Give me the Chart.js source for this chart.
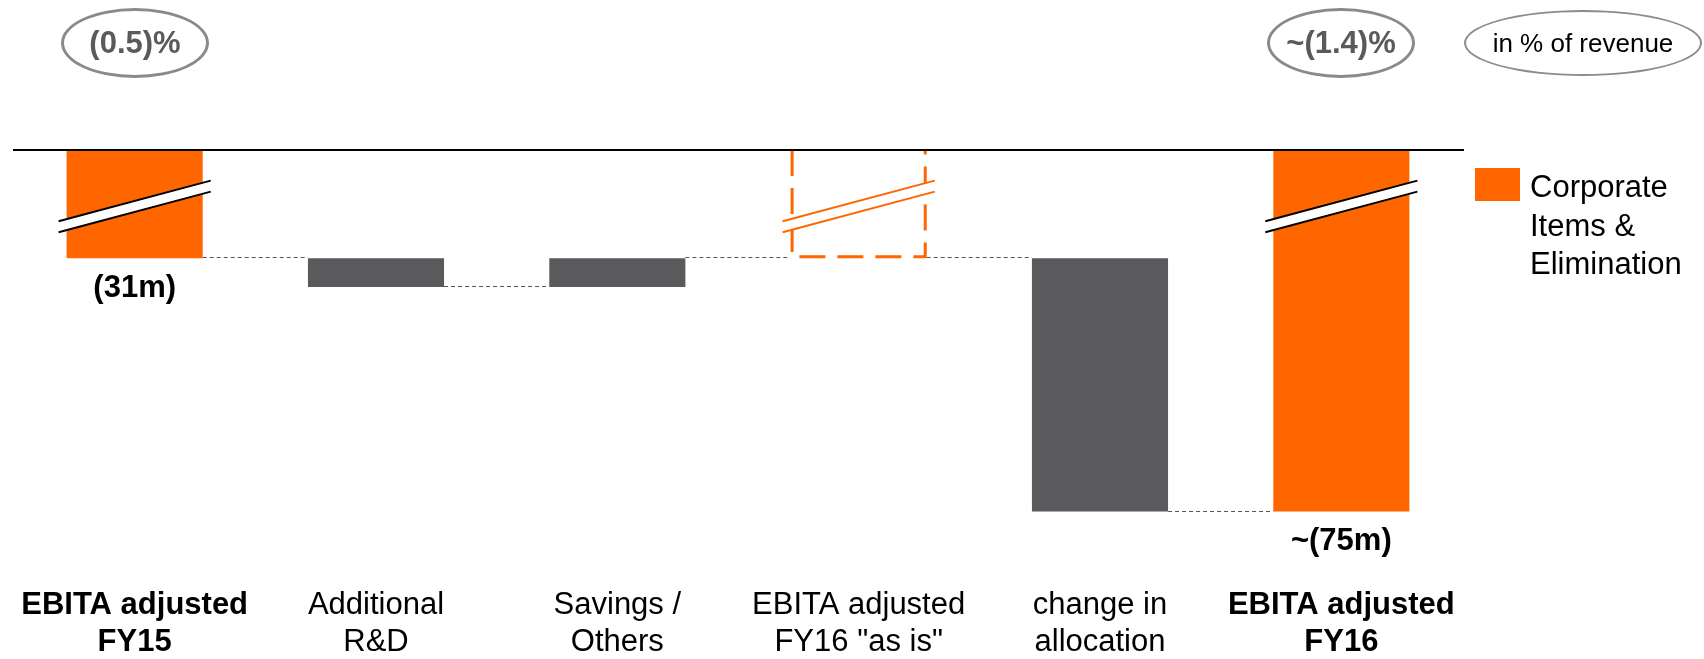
<!DOCTYPE html>
<html><head><meta charset="utf-8">
<script src="https://cdn.jsdelivr.net/npm/chart.js@4/dist/chart.umd.min.js"></script>
<style>
html,body{margin:0;padding:0;background:#fff;}
#wrap{position:relative;width:1704px;height:659px;font-family:"Liberation Sans",Arial,sans-serif;overflow:hidden;}
#c{position:absolute;left:0;top:0;}
.oval{position:absolute;box-sizing:border-box;border-radius:50%;display:flex;align-items:center;justify-content:center;white-space:nowrap;}
.o1{border:3px solid #8a8a8a;width:148px;height:70px;top:8px;font-weight:bold;font-size:31px;color:#5a5a5a;}
.o3{border:2px solid #8c8c8c;width:238px;height:66px;top:10px;left:1464px;font-size:26px;color:#000;}
#legbox{position:absolute;left:1475px;top:168px;width:45px;height:33px;background:#FF6600;}
#legtxt{position:absolute;left:1530px;top:168px;font-size:31px;line-height:38.5px;color:#000;}
</style></head>
<body>
<div id="wrap">
<canvas id="c" width="1704" height="659"></canvas>
<div class="oval o1" style="left:61px;">(0.5)%</div>
<div class="oval o1" style="left:1267px;">~(1.4)%</div>
<div class="oval o3">in % of revenue</div>
<div id="legbox"></div>
<div id="legtxt">Corporate<br>Items &amp;<br>Elimination</div>
</div>
<script>
// ---- data ----
const categories = [
  ['EBITA adjusted','FY15'],
  ['Additional','R&D'],
  ['Savings /','Others'],
  ['EBITA adjusted','FY16 "as is"'],
  ['change in','allocation'],
  ['EBITA adjusted','FY16']
];
const values  = [-31, -5, 5, -31, -44, -75];      // EUR m
const isTotal = [true, false, false, true, false, true];
const isProjectedTotal = [false, false, false, true, false, false];
const valueLabels = ['(31m)', '', '', '', '', '~(75m)'];
const boldLabel = [true, false, false, false, false, true];
const breakAt = -22;     // value where the axis break symbol is drawn
const axisTopValue = -12.2;  // broken axis: visible range top
const axisBottomValue = -82.2;

const ORANGE = '#FF6600', GREY = '#5a5a5c';

// floating ranges for the waterfall
const ranges = [], levels = [];
let run = 0;
values.forEach((v, i) => {
  if (isTotal[i]) { ranges.push([0, v]); run = v; }
  else { ranges.push([run, run + v]); run = run + v; }
  levels.push(run);
});

const colors = values.map((v, i) => isProjectedTotal[i] ? 'rgba(0,0,0,0)' : (isTotal[i] ? ORANGE : GREY));

Chart.defaults.font.family = '"Liberation Sans", Arial, sans-serif';

const decor = {
  id: 'decor',
  afterDatasetsDraw(chart) {
    const ctx = chart.ctx, area = chart.chartArea, ys = chart.scales.y;
    const meta = chart.getDatasetMeta(0);
    const els = meta.data;
    ctx.save();
    // connectors
    ctx.strokeStyle = '#555'; ctx.lineWidth = 1; ctx.setLineDash([4, 3]);
    for (let i = 0; i < els.length - 1; i++) {
      const a = els[i], b = els[i + 1];
      const yy = Math.round(ys.getPixelForValue(levels[i])) - 0.5;
      ctx.beginPath();
      ctx.moveTo(a.x + a.width / 2, yy);
      ctx.lineTo(b.x - b.width / 2, yy);
      ctx.stroke();
    }
    // dashed projected bar
    els.forEach((el, i) => {
      if (!isProjectedTotal[i]) return;
      const l = el.x - el.width / 2 + 1.5, r = el.x + el.width / 2 - 1.5;
      const top = area.top, bot = ys.getPixelForValue(ranges[i][1]) - 1.5;
      ctx.strokeStyle = ORANGE; ctx.lineWidth = 3; ctx.setLineDash([26, 12]);
      ctx.beginPath(); ctx.moveTo(l, top); ctx.lineTo(l, bot); ctx.lineTo(r, bot); ctx.lineTo(r, top); ctx.stroke();
    });
    ctx.setLineDash([]);
    // break symbols
    els.forEach((el, i) => {
      if (!isTotal[i]) return;
      const yc = ys.getPixelForValue(breakAt);
      const x0 = el.x - el.width / 2 - 8, x1 = el.x + el.width / 2 + 8;
      const rise = 40 * (x1 - x0) / 150;
      const h = 5.5;
      ctx.fillStyle = '#fff';
      ctx.beginPath();
      ctx.moveTo(x0, yc + rise / 2 - h); ctx.lineTo(x1, yc - rise / 2 - h);
      ctx.lineTo(x1, yc - rise / 2 + h); ctx.lineTo(x0, yc + rise / 2 + h); ctx.closePath();
      ctx.fill();
      ctx.strokeStyle = isProjectedTotal[i] ? ORANGE : '#000';
      ctx.lineWidth = 2;
      ctx.beginPath();
      ctx.moveTo(x0, yc + rise / 2 - h); ctx.lineTo(x1, yc - rise / 2 - h);
      ctx.moveTo(x0, yc + rise / 2 + h); ctx.lineTo(x1, yc - rise / 2 + h);
      ctx.stroke();
    });
    // axis line (zero line, broken)
    ctx.strokeStyle = '#000'; ctx.lineWidth = 2;
    ctx.beginPath(); ctx.moveTo(area.left - 1, area.top); ctx.lineTo(area.right + 2, area.top); ctx.stroke();
    // value labels
    ctx.fillStyle = '#000'; ctx.font = 'bold 31px "Liberation Sans", Arial, sans-serif';
    ctx.textAlign = 'center'; ctx.textBaseline = 'middle';
    els.forEach((el, i) => {
      if (!valueLabels[i]) return;
      const yb = ys.getPixelForValue(ranges[i][1]);
      ctx.fillText(valueLabels[i], el.x, yb + 30);
    });
    ctx.restore();
  }
};

new Chart(document.getElementById('c'), {
  type: 'bar',
  data: {
    labels: categories,
    datasets: [{
      data: ranges,
      backgroundColor: colors,
      borderWidth: 0,
      barPercentage: 0.564,
      categoryPercentage: 1
    }]
  },
  options: {
    responsive: false,
    animation: false,
    layout: { padding: { top: 150, left: 14, right: 242, bottom: 0 } },
    plugins: { legend: { display: false }, tooltip: { enabled: false } },
    scales: {
      y: { display: false, min: axisBottomValue, max: axisTopValue },
      x: {
        grid: { display: false, drawTicks: false },
        border: { display: false },
        afterFit: (s) => { s.paddingLeft = 0; s.paddingRight = 0; s.height = 106; },
        ticks: {
          color: '#000',
          padding: 34,
          autoSkip: false,
          maxRotation: 0,
          minRotation: 0,
          font: (c) => ({ size: 31, weight: boldLabel[c.index] ? 'bold' : 'normal', family: '"Liberation Sans", Arial, sans-serif' })
        }
      }
    }
  },
  plugins: [decor]
});
</script>
</body></html>
